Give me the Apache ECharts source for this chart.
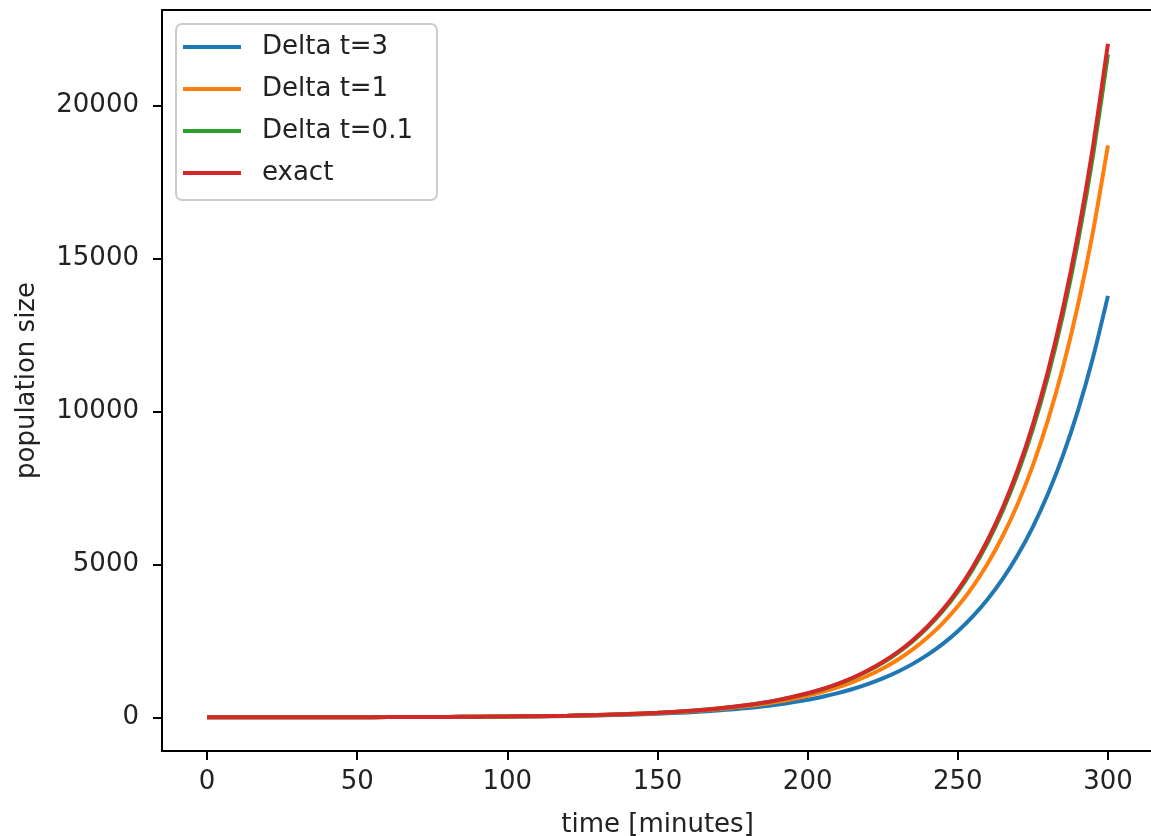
<!DOCTYPE html>
<html>
<head>
<meta charset="utf-8">
<script src="https://cdn.jsdelivr.net/npm/echarts@6/dist/echarts.min.js"></script>
<style>
html,body{margin:0;padding:0;background:#fff;}
#chart{width:1151px;height:836px;}
</style>
</head>
<body>
<div id="chart"></div>
<script>
// time samples (minutes)
const times = [0,10,20,30,40,50,60,70,80,90,100,110,120,130,140,150,160,170,180,190,200,205,210,215,220,225,230,235,240,245,250,255,260,265,270,275,280,285,290,295,300];
// population size
const deltaT3 = [1,1.37,1.89,2.59,3.56,4.9,6.73,9.25,12.7,17.4,24.0,33.0,45.3,62.2,85.4,117,161,222,304,418,575,674,790,926,1085,1272,1491,1748,2048,2401,2815,3299,3867,4533,5313,6228,7300,8557,10030,11757,13781];
const deltaT1 = [1,1.39,1.93,2.67,3.71,5.15,7.15,9.93,13.8,19.1,26.5,36.8,51.1,71.0,98.5,137,190,263,366,508,705,830,978,1152,1358,1599,1884,2220,2616,3081,3630,4277,5039,5937,6994,8240,9708,11438,13475,15876,18704];
const deltaT01 = [1,1.39,1.95,2.71,3.79,5.28,7.37,10.3,14.3,20.0,27.9,38.9,54.2,75.7,106,147,205,286,400,557,777,918,1084,1281,1512,1786,2110,2491,2942,3475,4104,4847,5725,6761,7985,9431,11139,13155,15537,18349,21671];
const exact = [1,1.40,1.95,2.72,3.79,5.29,7.39,10.3,14.4,20.1,28.0,39.1,54.6,76.2,106,148,207,289,403,563,786,928,1097,1295,1531,1808,2136,2523,2981,3521,4160,4915,5806,6859,8103,9572,11309,13360,15782,18645,22026];

const seriesNames = ['Delta t=3','Delta t=1','Delta t=0.1','exact'];
const seriesValues = [deltaT3, deltaT1, deltaT01, exact];
const seriesColors = ['#1f77b4','#ff7f0e','#2ca02c','#d62728'];

const xTicks = [0,50,100,150,200,250,300];
const yTicks = [0,5000,10000,15000,20000];

const FONT = 'DejaVu Sans';
const TXT = '#222222';

const chart = echarts.init(document.getElementById('chart'), null, {renderer:'canvas'});
chart.setOption({
  animation:false,
  backgroundColor:'#ffffff',
  grid:{left:162, top:10, width:991, height:741, show:false, outerBoundsMode:'none', containLabel:false},
  legend:{
    orient:'vertical', left:176, top:24,
    icon:'rect', itemWidth:58, itemHeight:4, itemGap:12,
    padding:[8,24,12,7],
    backgroundColor:'rgba(255,255,255,0.8)', borderColor:'#cccccc', borderWidth:2, borderRadius:6,
    textStyle:{fontFamily:FONT, fontSize:26, color:TXT, lineHeight:30, padding:[0,0,0,16]},
    data:seriesNames
  },
  xAxis:[{
    type:'value', min:-15, max:315, position:'bottom',
    name:'time [minutes]', nameLocation:'middle', nameGap:61,
    nameTextStyle:{fontFamily:FONT, fontSize:26, color:TXT},
    axisLine:{show:true, onZero:false, lineStyle:{color:'#000', width:2}},
    axisTick:{show:true, length:9, lineStyle:{color:'#000', width:2}, customValues:xTicks},
    axisLabel:{fontFamily:FONT, fontSize:26, color:TXT, margin:18, customValues:xTicks, formatter:v=>String(v)},
    splitLine:{show:false}
  },{
    type:'value', min:-15, max:315, position:'top',
    axisLine:{show:true, onZero:false, lineStyle:{color:'#000', width:2}},
    axisTick:{show:false}, axisLabel:{show:false}, splitLine:{show:false}
  }],
  yAxis:{
    type:'value', min:-1101, max:23128,
    name:'population size', nameLocation:'middle', nameGap:122,
    nameTextStyle:{fontFamily:FONT, fontSize:26, color:TXT},
    axisLine:{show:true, onZero:false, lineStyle:{color:'#000', width:2}},
    axisTick:{show:true, length:9, lineStyle:{color:'#000', width:2}, customValues:yTicks},
    axisLabel:{fontFamily:FONT, fontSize:26, color:TXT, margin:23, customValues:yTicks, formatter:v=>String(v)},
    splitLine:{show:false}
  },
  series: seriesNames.map((n,i)=>({
    name:n, type:'line', showSymbol:false, symbol:'none',
    smooth:0.25, xAxisIndex:0,
    data: times.map((t,j)=>[t, seriesValues[i][j]]),
    lineStyle:{color:seriesColors[i], width:4},
    itemStyle:{color:seriesColors[i]},
    z:2+i
  }))
});
</script>
</body>
</html>
